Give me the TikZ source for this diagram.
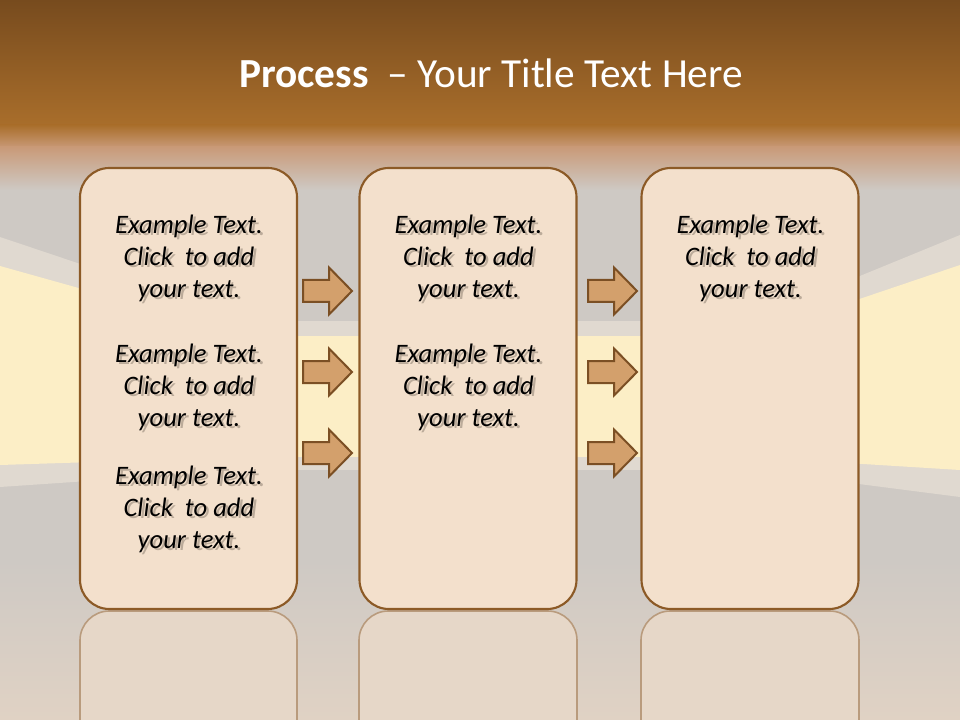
\documentclass[tikz,border=0pt]{standalone}
\usepackage{fontspec}
\setmainfont{Carlito}
\usetikzlibrary{calc}
\definecolor{topbrown}{HTML}{774B1E}
\definecolor{midbrown}{HTML}{A96E2B}
\definecolor{pinkish}{HTML}{C99A78}
\definecolor{wallgray}{HTML}{CEC9C4}
\definecolor{floorbeige}{HTML}{E0D2C4}
\definecolor{stripe}{HTML}{E0D9D0}
\definecolor{wallyellow}{HTML}{FCEEC6}
\definecolor{boxfill}{HTML}{F3E0CC}
\definecolor{boxline}{HTML}{8C5A26}
\definecolor{arrfill}{HTML}{D3A06C}
\definecolor{arrline}{HTML}{7B4F24}
\definecolor{reflfill}{HTML}{E6D7C8}
\definecolor{reflline}{HTML}{B99B7D}
\definecolor{shadowcol}{HTML}{BBAB9A}
\tikzset{
  panel/.style={draw=boxline, fill=boxfill, line width=1.6pt, rounded corners=22pt,
    minimum width=162.75pt, minimum height=330.75pt, inner sep=0pt},
  refl/.style={draw=reflline, fill=reflfill, line width=1.2pt, rounded corners=22pt},
  arr/.style={draw=arrline, fill=arrfill, line width=1.5pt, line join=miter},
  bodytxt/.style={align=center, font=\fontsize{20pt}{24pt}\selectfont\itshape, text=black, inner sep=0pt},
  titletxt/.style={text=white, font=\fontsize{31pt}{37pt}\selectfont, inner sep=0pt, anchor=base}
}
\renewcommand\arraystretch{1}
\newcommand\threelines{\begin{tabular}{@{}c@{}}Example Text.\\Click~ to add\\your text.\end{tabular}}
\newcommand\shadowed{%
  \makebox[0pt][l]{\kern2pt\raisebox{-2pt}{\color{shadowcol}\threelines}}\threelines}
\newcommand\blockarr[3]{%
  \draw[arr] (#2,#3) ++(0,-11) -- ++(26,0) -- ++(0,-12.5) -- ++(23,23.5)
    coordinate (#1) -- ++(-23,23.5) -- ++(0,-12.5) -- ++(-26,0) -- cycle;}
\begin{document}
\begin{tikzpicture}[x=0.75pt,y=-0.75pt]
\useasboundingbox (0,0) rectangle (960,720);
\begin{scope}
\clip (0,0) rectangle (960,720);
% background
\fill[wallgray] (0,0) rectangle (960,720);
\shade[top color=topbrown, bottom color=midbrown] (0,0) rectangle (960,126);
\shade[top color=midbrown, bottom color=pinkish] (0,125) rectangle (960,148);
\shade[top color=pinkish, bottom color=wallgray] (0,147) rectangle (960,190);
\shade[top color=wallgray, bottom color=floorbeige] (0,560) rectangle (960,720);
% back wall band
\fill[stripe] (240,321) rectangle (760,470);
\fill[wallyellow] (240,336) rectangle (760,457);
% left wall
\fill[stripe] (0,237) -- (250,321) -- (250,470) -- (0,487) -- cycle;
\fill[wallyellow] (0,266) -- (250,336) -- (250,457) -- (0,465) -- cycle;
% right wall
\fill[stripe] (960,235) -- (750,321) -- (750,470) -- (960,497) -- cycle;
\fill[wallyellow] (960,265) -- (750,336) -- (750,457) -- (960,470) -- cycle;
% reflections
\draw[refl] (80,780) -- (80,611) -- (297,611) -- (297,780);
\draw[refl] (359,780) -- (359,611) -- (577,611) -- (577,780);
\draw[refl] (641,780) -- (641,611) -- (859,611) -- (859,780);
% panels
\node[panel] (p1) at (188.5,388.5) {};
\node[panel] (p2) at (468,388.5) {};
\node[panel] (p3) at (750,388.5) {};
% arrows
\blockarr{a1}{303}{291}
\blockarr{a2}{303}{372}
\blockarr{a3}{303}{453}
\blockarr{b1}{588}{291}
\blockarr{b2}{588}{372}
\blockarr{b3}{588}{453}
% texts
\node[bodytxt] (t11) at (189,260) {\shadowed};
\node[bodytxt] (t12) at (189,389) {\shadowed};
\node[bodytxt] (t13) at (189,511) {\shadowed};
\node[bodytxt] (t21) at (468.5,260) {\shadowed};
\node[bodytxt] (t22) at (468.5,389) {\shadowed};
\node[bodytxt] (t31) at (750.5,260) {\shadowed};
% title
\node[titletxt] (title) at (491,88) {\textbf{Process}~ – Your Title Text Here};
\end{scope}
\end{tikzpicture}
\end{document}
